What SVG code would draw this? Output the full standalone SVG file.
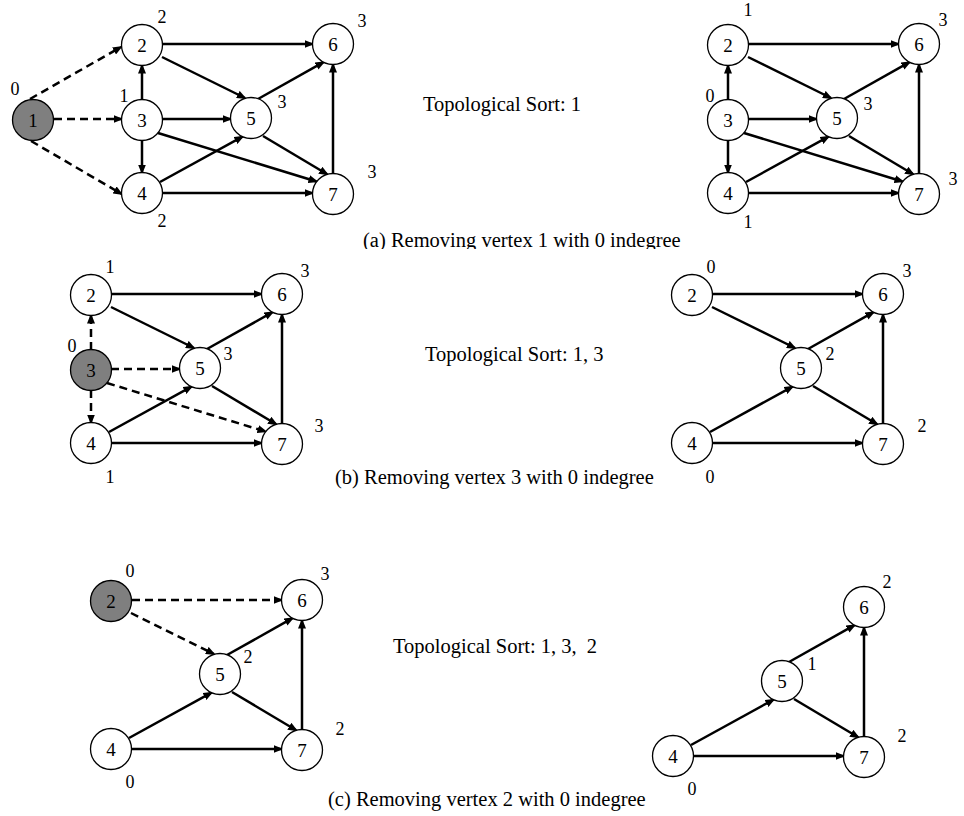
<svg xmlns="http://www.w3.org/2000/svg" width="964" height="816" viewBox="0 0 964 816">
<defs>
<style>
.n{fill:#fff;stroke:#000;stroke-width:1.3}
.g{fill:#7f7f7f}
.e{stroke:#000;stroke-width:2.5;fill:none;marker-end:url(#ah)}
.d{stroke-dasharray:8 5}
text{font-family:"Liberation Serif","Times New Roman",serif;fill:#000}
.nl{font-size:19px;text-anchor:middle}
.dl{font-size:18px;text-anchor:middle}
.cap{font-size:20.5px}
</style>
<marker id="ah" markerUnits="userSpaceOnUse" markerWidth="10" markerHeight="8" refX="8" refY="4" orient="auto" viewBox="0 0 10 8">
<path d="M0,0 L10,4 L0,8 z" fill="#000"/>
</marker>
<clipPath id="clipA"><rect x="0" y="0" width="964" height="249"/></clipPath>
</defs>
<rect width="964" height="816" fill="#fff"/>

<!-- Panel (a) left -->
<g id="panel-a-left">
<g id="connectors-a-left">
<line class="e d" x1="30" y1="99" x2="121" y2="47"/>
<line class="e d" x1="54" y1="119" x2="121.5" y2="119"/>
<line class="e d" x1="31" y1="141" x2="121.5" y2="193.9"/>
<line class="e" x1="163" y1="44" x2="312.5" y2="44"/>
<line class="e" x1="162" y1="57" x2="245" y2="98"/>
<line class="e" x1="142" y1="100" x2="142" y2="65.5"/>
<line class="e" x1="162" y1="119" x2="230.5" y2="119"/>
<line class="e" x1="142" y1="140" x2="142" y2="172.5"/>
<line class="e" x1="158" y1="133" x2="316.5" y2="181.5"/>
<line class="e" x1="160" y1="182" x2="242.5" y2="136.6"/>
<line class="e" x1="162" y1="193" x2="312.5" y2="193"/>
<line class="e" x1="258" y1="99" x2="323.5" y2="62.2"/>
<line class="e" x1="263" y1="136" x2="327.2" y2="174.3"/>
<line class="e" x1="333" y1="173.5" x2="333" y2="64.5"/>
</g>
<g id="a1-n1"><circle class="n g" cx="33" cy="120" r="20.5"/><text class="nl" x="33" y="126.5">1</text><text class="dl" x="15" y="95">0</text></g>
<g id="a1-n2"><circle class="n" cx="142" cy="45" r="20.5"/><text class="nl" x="142" y="51.5">2</text><text class="dl" x="162" y="23">2</text></g>
<g id="a1-n3"><circle class="n" cx="142" cy="120" r="20.5"/><text class="nl" x="142" y="126.5">3</text><text class="dl" x="124" y="102">1</text></g>
<g id="a1-n4"><circle class="n" cx="142" cy="193" r="20.5"/><text class="nl" x="142" y="199.5">4</text><text class="dl" x="162" y="227">2</text></g>
<g id="a1-n5"><circle class="n" cx="251" cy="118" r="20.5"/><text class="nl" x="251" y="124.5">5</text><text class="dl" x="282" y="108">3</text></g>
<g id="a1-n6"><circle class="n" cx="333" cy="44" r="20.5"/><text class="nl" x="333" y="50.5">6</text><text class="dl" x="362" y="27">3</text></g>
<g id="a1-n7"><circle class="n" cx="333" cy="194" r="20.5"/><text class="nl" x="333" y="200.5">7</text><text class="dl" x="372" y="178">3</text></g>
</g>

<!-- Panel (a) right -->
<g id="panel-a-right" transform="translate(586,0)">
<g id="connectors-a-right">
<line class="e" x1="163" y1="44" x2="312.5" y2="44"/>
<line class="e" x1="162" y1="57" x2="245" y2="98"/>
<line class="e" x1="142" y1="100" x2="142" y2="65.5"/>
<line class="e" x1="162" y1="119" x2="230.5" y2="119"/>
<line class="e" x1="142" y1="140" x2="142" y2="172.5"/>
<line class="e" x1="158" y1="133" x2="316.5" y2="181.5"/>
<line class="e" x1="160" y1="182" x2="242.5" y2="136.6"/>
<line class="e" x1="162" y1="193" x2="312.5" y2="193"/>
<line class="e" x1="258" y1="99" x2="323.5" y2="62.2"/>
<line class="e" x1="263" y1="136" x2="327.2" y2="174.3"/>
<line class="e" x1="333" y1="173.5" x2="333" y2="64.5"/>
</g>
<g id="a2-n2"><circle class="n" cx="142" cy="45" r="20.5"/><text class="nl" x="142" y="51.5">2</text><text class="dl" x="162" y="16">1</text></g>
<g id="a2-n3"><circle class="n" cx="142" cy="120" r="20.5"/><text class="nl" x="142" y="126.5">3</text><text class="dl" x="124" y="102">0</text></g>
<g id="a2-n4"><circle class="n" cx="142" cy="193" r="20.5"/><text class="nl" x="142" y="199.5">4</text><text class="dl" x="162" y="228">1</text></g>
<g id="a2-n5"><circle class="n" cx="251" cy="118" r="20.5"/><text class="nl" x="251" y="124.5">5</text><text class="dl" x="282" y="110">3</text></g>
<g id="a2-n6"><circle class="n" cx="333" cy="44" r="20.5"/><text class="nl" x="333" y="50.5">6</text><text class="dl" x="357" y="26">3</text></g>
<g id="a2-n7"><circle class="n" cx="333" cy="194" r="20.5"/><text class="nl" x="333" y="200.5">7</text><text class="dl" x="367" y="185">3</text></g>
</g>

<!-- Panel (b) left -->
<g id="panel-b-left" transform="translate(-51,250)">
<g id="connectors-b-left">
<line class="e d" x1="142" y1="100" x2="142" y2="65.5"/>
<line class="e d" x1="162" y1="119" x2="230.5" y2="119"/>
<line class="e d" x1="142" y1="140" x2="142" y2="172.5"/>
<line class="e d" x1="158" y1="133" x2="316.5" y2="181.5"/>
<line class="e" x1="163" y1="44" x2="312.5" y2="44"/>
<line class="e" x1="162" y1="57" x2="245" y2="98"/>
<line class="e" x1="160" y1="182" x2="242.5" y2="136.6"/>
<line class="e" x1="162" y1="193" x2="312.5" y2="193"/>
<line class="e" x1="258" y1="99" x2="323.5" y2="62.2"/>
<line class="e" x1="263" y1="136" x2="327.2" y2="174.3"/>
<line class="e" x1="333" y1="173.5" x2="333" y2="64.5"/>
</g>
<g id="b1-n2"><circle class="n" cx="142" cy="45" r="20.5"/><text class="nl" x="142" y="51.5">2</text><text class="dl" x="161" y="23">1</text></g>
<g id="b1-n3"><circle class="n g" cx="142" cy="120" r="20.5"/><text class="nl" x="142" y="126.5">3</text><text class="dl" x="123" y="102">0</text></g>
<g id="b1-n4"><circle class="n" cx="142" cy="193" r="20.5"/><text class="nl" x="142" y="199.5">4</text><text class="dl" x="161" y="233">1</text></g>
<g id="b1-n5"><circle class="n" cx="251" cy="118" r="20.5"/><text class="nl" x="251" y="124.5">5</text><text class="dl" x="279" y="110">3</text></g>
<g id="b1-n6"><circle class="n" cx="333" cy="44" r="20.5"/><text class="nl" x="333" y="50.5">6</text><text class="dl" x="356" y="27">3</text></g>
<g id="b1-n7"><circle class="n" cx="333" cy="194" r="20.5"/><text class="nl" x="333" y="200.5">7</text><text class="dl" x="370" y="182">3</text></g>
</g>

<!-- Panel (b) right -->
<g id="panel-b-right" transform="translate(550,250)">
<g id="connectors-b-right">
<line class="e" x1="163" y1="44" x2="312.5" y2="44"/>
<line class="e" x1="162" y1="57" x2="245" y2="98"/>
<line class="e" x1="160" y1="182" x2="242.5" y2="136.6"/>
<line class="e" x1="162" y1="193" x2="312.5" y2="193"/>
<line class="e" x1="258" y1="99" x2="323.5" y2="62.2"/>
<line class="e" x1="263" y1="136" x2="327.2" y2="174.3"/>
<line class="e" x1="333" y1="173.5" x2="333" y2="64.5"/>
</g>
<g id="b2-n2"><circle class="n" cx="142" cy="45" r="20.5"/><text class="nl" x="142" y="51.5">2</text><text class="dl" x="161" y="23">0</text></g>
<g id="b2-n4"><circle class="n" cx="142" cy="193" r="20.5"/><text class="nl" x="142" y="199.5">4</text><text class="dl" x="160" y="233">0</text></g>
<g id="b2-n5"><circle class="n" cx="251" cy="118" r="20.5"/><text class="nl" x="251" y="124.5">5</text><text class="dl" x="280" y="110">2</text></g>
<g id="b2-n6"><circle class="n" cx="333" cy="44" r="20.5"/><text class="nl" x="333" y="50.5">6</text><text class="dl" x="357" y="27">3</text></g>
<g id="b2-n7"><circle class="n" cx="333" cy="194" r="20.5"/><text class="nl" x="333" y="200.5">7</text><text class="dl" x="372" y="182">2</text></g>
</g>

<!-- Panel (c) left -->
<g id="panel-c-left" transform="translate(-31,556)">
<g id="connectors-c-left">
<line class="e d" x1="163" y1="44" x2="312.5" y2="44"/>
<line class="e d" x1="162" y1="57" x2="245" y2="98"/>
<line class="e" x1="160" y1="182" x2="242.5" y2="136.6"/>
<line class="e" x1="162" y1="193" x2="312.5" y2="193"/>
<line class="e" x1="258" y1="99" x2="323.5" y2="62.2"/>
<line class="e" x1="263" y1="136" x2="327.2" y2="174.3"/>
<line class="e" x1="333" y1="173.5" x2="333" y2="64.5"/>
</g>
<g id="c1-n2"><circle class="n g" cx="142" cy="45" r="20.5"/><text class="nl" x="142" y="51.5">2</text><text class="dl" x="161" y="21">0</text></g>
<g id="c1-n4"><circle class="n" cx="142" cy="193" r="20.5"/><text class="nl" x="142" y="199.5">4</text><text class="dl" x="161" y="232">0</text></g>
<g id="c1-n5"><circle class="n" cx="251" cy="118" r="20.5"/><text class="nl" x="251" y="124.5">5</text><text class="dl" x="279" y="107">2</text></g>
<g id="c1-n6"><circle class="n" cx="333" cy="44" r="20.5"/><text class="nl" x="333" y="50.5">6</text><text class="dl" x="356" y="24">3</text></g>
<g id="c1-n7"><circle class="n" cx="333" cy="194" r="20.5"/><text class="nl" x="333" y="200.5">7</text><text class="dl" x="371" y="179">2</text></g>
</g>

<!-- Panel (c) right -->
<g id="panel-c-right" transform="translate(531,563)">
<g id="connectors-c-right">
<line class="e" x1="160" y1="182" x2="242.5" y2="136.6"/>
<line class="e" x1="162" y1="193" x2="312.5" y2="193"/>
<line class="e" x1="258" y1="99" x2="323.5" y2="62.2"/>
<line class="e" x1="263" y1="136" x2="327.2" y2="174.3"/>
<line class="e" x1="333" y1="173.5" x2="333" y2="64.5"/>
</g>
<g id="c2-n4"><circle class="n" cx="142" cy="193" r="20.5"/><text class="nl" x="142" y="199.5">4</text><text class="dl" x="161" y="232">0</text></g>
<g id="c2-n5"><circle class="n" cx="251" cy="118" r="20.5"/><text class="nl" x="251" y="124.5">5</text><text class="dl" x="281" y="107">1</text></g>
<g id="c2-n6"><circle class="n" cx="333" cy="44" r="20.5"/><text class="nl" x="333" y="50.5">6</text><text class="dl" x="356" y="25">2</text></g>
<g id="c2-n7"><circle class="n" cx="333" cy="194" r="20.5"/><text class="nl" x="333" y="200.5">7</text><text class="dl" x="371" y="179">2</text></g>
</g>

<!-- Texts -->
<g id="texts">
<text class="cap" x="423" y="111">Topological Sort: 1</text>
<text class="cap" x="425" y="361">Topological Sort: 1, 3</text>
<text class="cap" x="393" y="653" xml:space="preserve">Topological Sort: 1, 3,  2</text>
<text class="cap" x="363" y="247" clip-path="url(#clipA)">(a) Removing vertex 1 with 0 indegree</text>
<text class="cap" x="335" y="484">(b) Removing vertex 3 with 0 indegree</text>
<text class="cap" x="328" y="806">(c) Removing vertex 2 with 0 indegree</text>
</g>
</svg>
